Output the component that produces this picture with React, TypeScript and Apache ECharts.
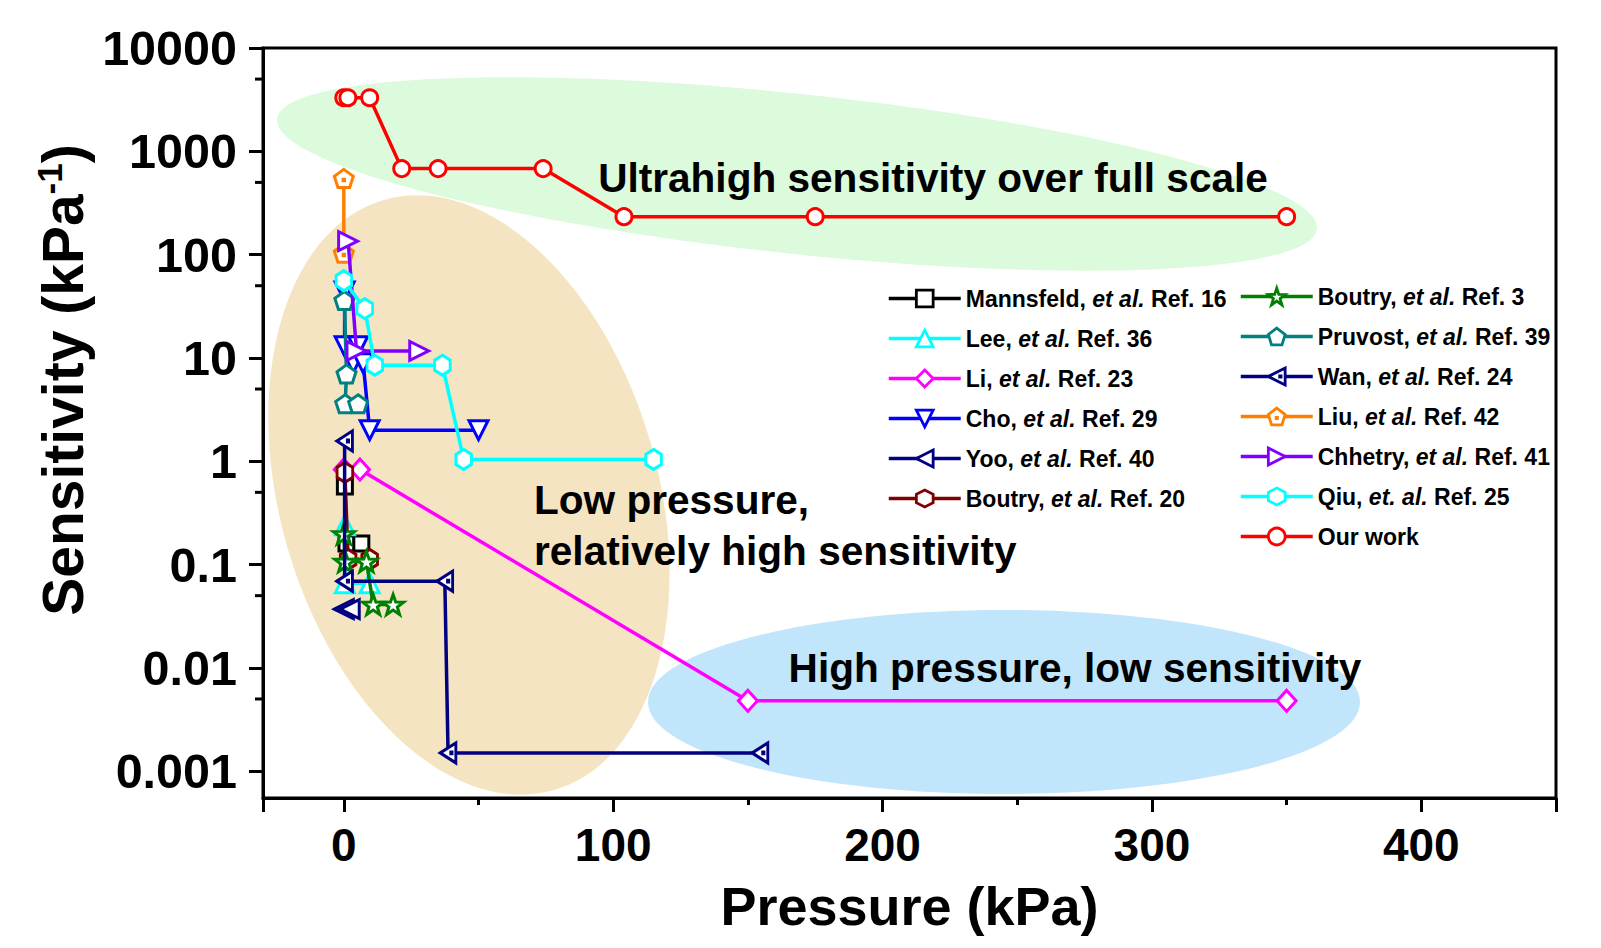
import React, { useEffect, useRef } from 'react';
import * as echarts from 'echarts';

// ---------- data: [pressure (kPa), sensitivity (kPa^-1)] ----------
const mannsfeld = [[0.4, 0.57], [1, 0.16], [6.5, 0.16]];
const lee = [[0.4, 0.24], [0.4, 0.066], [9.6, 0.066]];
const li = [[0, 0.83], [6, 0.83], [150, 0.0048], [350, 0.0048]];
const cho = [[0.3, 44], [0.3, 13], [5.3, 13], [3.5, 8.9], [7.2, 8.9], [9.6, 2.0], [50, 2.0]];
const yoo = [[0, 0.037], [2.2, 0.037]];
const boutry20 = [[0.4, 0.78], [1.6, 0.112], [9.6, 0.112]];
const boutry3 = [[0, 0.198], [0.5, 0.107], [8.4, 0.107], [10.9, 0.041], [18.3, 0.041]];
const pruvost = [[0.2, 36], [1, 7.0], [0.5, 3.6], [5.3, 3.6]];
const wan = [[0.3, 1.57], [0.3, 0.069], [37.5, 0.069], [38.7, 0.0015], [154.5, 0.0015]];
const liu = [[0, 547], [0, 103]];
const chhetry = [[1.6, 135], [4.7, 11.7], [28, 11.7]];
const qiu = [[0, 56], [7.8, 30], [11.5, 8.5], [36.6, 8.5], [44.5, 1.04], [115, 1.04]];
const ourWork = [[0, 3300], [1.5, 3300], [9.6, 3300], [21.5, 680], [35, 680], [74, 680], [104, 233], [175, 233], [350, 233]];

const seriesNames = [
  'Mannsfeld, et al. Ref. 16',
  'Lee, et al. Ref. 36',
  'Li, et al. Ref. 23',
  'Cho, et al. Ref. 29',
  'Yoo, et al. Ref. 40',
  'Boutry, et al. Ref. 20',
  'Boutry, et al. Ref. 3',
  'Pruvost, et al. Ref. 39',
  'Wan, et al. Ref. 24',
  'Liu, et al. Ref. 42',
  'Chhetry, et al. Ref. 41',
  'Qiu, et. al. Ref. 25',
  'Our work',
];
const seriesData = [mannsfeld, lee, li, cho, yoo, boutry20, boutry3, pruvost, wan, liu, chhetry, qiu, ourWork];
const seriesColors = ['#000000', '#00ffff', '#ff00ff', '#0000ff', '#000080', '#800000', '#008000', '#008080', '#000080', '#ff8000', '#8000ff', '#00ffff', '#ff0000'];

const xMin = -30;
const xMax = 450;
const yMin = 0.00055;
const yMax = 10000;
const yMinorTicks = [0.005, 0.05, 0.5, 5, 50, 500, 5000];

const FONT = '"Liberation Sans", Arial, Helvetica, sans-serif';

const HEX = 'path://M0,-1L0.866,-0.5L0.866,0.5L0,1L-0.866,0.5L-0.866,-0.5Z';
const STAR = 'path://M0,-1L0.235,-0.324L0.951,-0.309L0.38,0.124L0.588,0.809L0,0.4L-0.588,0.809L-0.38,0.124L-0.951,-0.309L-0.235,-0.324Z';
const PENT = 'path://M0,-1L0.951,-0.309L0.588,0.809L-0.588,0.809L-0.951,-0.309Z';
const PENT_DOT = 'path://M0,-1L0.951,-0.309L0.588,0.809L-0.588,0.809L-0.951,-0.309ZM-0.07,0.0L0.07,0.0L0.07,0.14L-0.07,0.14Z';
const TRI_LEFT_DOT = 'path://M-0.866,0L0.866,-1L0.866,1ZM0.3,-0.08L0.44,-0.08L0.44,0.08L0.3,0.08Z';

const symbols: any[] = [
  ['rect', 15, 0],
  ['triangle', 19, 0],
  ['diamond', [19, 21], 0],
  ['triangle', 19, 180],
  ['triangle', 19, 90],
  [HEX, [18, 20], 0],
  [STAR, 21, 0],
  [PENT, 19, 0],
  [TRI_LEFT_DOT, [18, 20], 0],
  [PENT_DOT, 19, 0],
  ['triangle', 19, -90],
  [HEX, [18, 20], 0],
  ['circle', 16, 0],
];

function legendFormatter(name: string) {
  const m = name.match(/^(.*?)(et\.? al\.)(.*)$/);
  if (!m) return `{n|${name}}`;
  return `{n|${m[1]}}{i|${m[2]}}{n|${m[3]}}`;
}

function buildOption() {
  const series: any[] = seriesNames.map((name, i) => ({
    type: 'line',
    name,
    data: seriesData[i],
    symbol: symbols[i][0],
    symbolSize: symbols[i][1],
    symbolRotate: symbols[i][2],
    symbolKeepAspect: true,
    showSymbol: true,
    showAllSymbol: true,
    clip: false,
    z: 3 + i,
    lineStyle: { color: seriesColors[i], width: 3.5 },
    itemStyle: { color: '#ffffff', borderColor: seriesColors[i], borderWidth: 3 },
    emphasis: { disabled: true },
  }));

  series.push({
    type: 'custom',
    name: 'minorTicksY',
    silent: true,
    clip: false,
    z: 20,
    data: yMinorTicks.map((v) => [xMin, v]),
    encode: { x: 0, y: 1 },
    renderItem: (params: any, api: any) => {
      const p = api.coord([api.value(0), api.value(1)]);
      return {
        type: 'line',
        shape: { x1: p[0] - 8, y1: p[1], x2: p[0], y2: p[1] },
        style: { stroke: '#000', lineWidth: 3 },
      };
    },
  });

  const legendCommon = {
    orient: 'vertical',
    itemWidth: 72,
    itemHeight: 21,
    itemGap: 17,
    selectedMode: false,
    formatter: legendFormatter,
    lineStyle: { width: 3.5 },
    itemStyle: { borderWidth: 2.8 },
    textStyle: {
      color: '#000',
      fontSize: 23,
      fontWeight: 'bold',
      fontFamily: FONT,
      lineHeight: 22,
      rich: {
        n: { fontSize: 23, fontWeight: 'bold', fontFamily: FONT, color: '#000', lineHeight: 22 },
        i: { fontSize: 23, fontWeight: 'bold', fontStyle: 'italic', fontFamily: FONT, color: '#000', lineHeight: 22 },
      },
    },
  };

  return {
    animation: false,
    backgroundColor: '#ffffff',
    textStyle: { fontFamily: FONT },
    grid: {
      left: 263,
      right: 45,
      top: 48,
      bottom: 150,
      show: true,
      borderColor: '#000',
      borderWidth: 3,
      backgroundColor: 'transparent',
      outerBoundsMode: 'none',
    },
    legend: [
      { ...legendCommon, left: 882, top: 282, data: seriesNames.slice(0, 6) },
      { ...legendCommon, left: 1234, top: 280, data: seriesNames.slice(6) },
    ],
    xAxis: {
      type: 'value',
      min: xMin,
      max: xMax,
      splitNumber: 5,
      name: 'Pressure (kPa)',
      nameLocation: 'middle',
      nameGap: 81,
      nameTextStyle: { fontSize: 54, fontWeight: 'bold', color: '#000', fontFamily: FONT },
      axisLine: { show: true, onZero: false, lineStyle: { color: '#000', width: 3 } },
      axisTick: { show: true, inside: false, length: 14, lineStyle: { color: '#000', width: 3 } },
      minorTick: { show: true, splitNumber: 2, length: 7, lineStyle: { color: '#000', width: 3 } },
      splitLine: { show: false },
      minorSplitLine: { show: false },
      axisLabel: {
        fontSize: 46,
        fontWeight: 'bold',
        color: '#000',
        fontFamily: FONT,
        margin: 24,
        showMinLabel: false,
        showMaxLabel: false,
      },
    },
    yAxis: {
      type: 'log',
      logBase: 10,
      min: yMin,
      max: yMax,
      name: '{a|Sensitivity (kPa}{s|-1}{a|)}',
      nameLocation: 'middle',
      nameGap: 162,
      nameRotate: 90,
      nameTextStyle: {
        color: '#000',
        padding: [0, 0, 0, 86],
        rich: {
          a: { fontSize: 57, fontWeight: 'bold', color: '#000', fontFamily: FONT, lineHeight: 62 },
          s: { fontSize: 35, fontWeight: 'bold', color: '#000', fontFamily: FONT, lineHeight: 35, verticalAlign: 'top' },
        },
      },
      axisLine: { show: true, onZero: false, lineStyle: { color: '#000', width: 3 } },
      axisTick: { show: true, inside: false, length: 14, lineStyle: { color: '#000', width: 3 } },
      minorTick: { show: false },
      splitLine: { show: false },
      axisLabel: {
        fontSize: 48.5,
        fontWeight: 'bold',
        color: '#000',
        fontFamily: FONT,
        margin: 26,
        showMinLabel: false,
        showMaxLabel: true,
        formatter: (v: number) => String(v),
      },
    },
    graphic: [
      { type: 'ellipse', x: 797, y: 174, rotation: -0.105, silent: true, z: 1, shape: { cx: 0, cy: 0, rx: 523, ry: 80 }, style: { fill: '#dcfadc' } },
      { type: 'ellipse', x: 469, y: 495, rotation: 0.281, silent: true, z: 1, shape: { cx: 0, cy: 0, rx: 189, ry: 307 }, style: { fill: '#f5e4c1' } },
      { type: 'ellipse', x: 1004, y: 702, rotation: 0, silent: true, z: 1, shape: { cx: 0, cy: 0, rx: 356, ry: 92 }, style: { fill: '#c1e5fa' } },
      {
        type: 'text', x: 933, y: 178, z: 100, silent: true,
        style: { text: 'Ultrahigh sensitivity over full scale', fill: '#000', fontSize: 40.6, fontWeight: 'bold', fontFamily: FONT, textAlign: 'center', textVerticalAlign: 'middle', align: 'center', verticalAlign: 'middle' },
      },
      {
        type: 'text', x: 534, y: 500, z: 100, silent: true,
        style: { text: 'Low pressure,', fill: '#000', fontSize: 40.6, fontWeight: 'bold', fontFamily: FONT, textAlign: 'left', textVerticalAlign: 'middle', align: 'left', verticalAlign: 'middle' },
      },
      {
        type: 'text', x: 534, y: 551, z: 100, silent: true,
        style: { text: 'relatively high sensitivity', fill: '#000', fontSize: 40.6, fontWeight: 'bold', fontFamily: FONT, textAlign: 'left', textVerticalAlign: 'middle', align: 'left', verticalAlign: 'middle' },
      },
      {
        type: 'text', x: 1075, y: 668, z: 100, silent: true,
        style: { text: 'High pressure, low sensitivity', fill: '#000', fontSize: 40.6, fontWeight: 'bold', fontFamily: FONT, textAlign: 'center', textVerticalAlign: 'middle', align: 'center', verticalAlign: 'middle' },
      },
    ],
    series,
  };
}

export default function App() {
  const ref = useRef<HTMLDivElement>(null);
  useEffect(() => {
    if (!ref.current) return;
    const chart = echarts.init(ref.current, null, { renderer: 'svg' });
    chart.setOption(buildOption() as any);
    return () => {
      chart.dispose();
    };
  }, []);
  return (
    <div
      ref={ref}
      style={{ position: 'fixed', left: 0, top: 0, width: 1601, height: 948, background: '#fff' }}
    />
  );
}
